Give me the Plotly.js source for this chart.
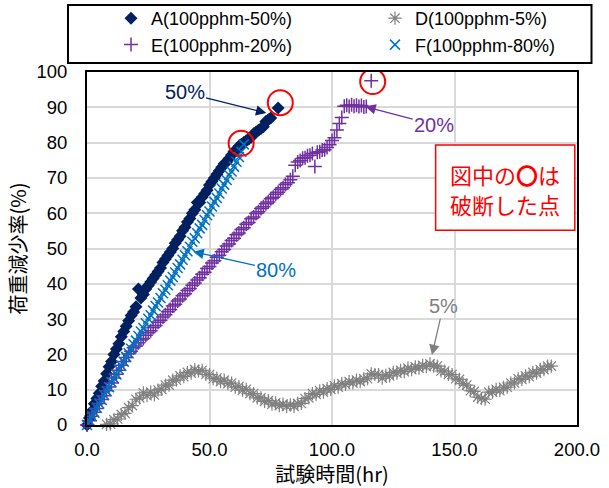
<!DOCTYPE html>
<html>
<head>
<meta charset="utf-8">
<script src="https://cdn.plot.ly/plotly-3.0.1.min.js"></script>
<style>html,body{margin:0;padding:0;background:#fff;}#chart{width:609px;height:488px;}</style>
</head>
<body>
<div id="chart"></div>
<script>
// ---- data (hours from start; loss rate %) ----
const seriesNames = ["A(100pphm-50%)", "D(100pphm-5%)", "E(100pphm-20%)", "F(100pphm-80%)"];
// A: start 0 h, every 1 h
const aStart = 0, aStep = 1;
const aValues = [0,2,4,6,7.5,9,11,12.5,14.5,16.5,
  18,20,21.5,23,25,26.5,28,29.5,31,32,
  33.5,38.5,36,37,38.5,39.5,40.5,41.5,42.5,43.5,
  44.5,46,47,48,49,50,51.5,52.5,53.5,55,
  56,57.5,58.5,60,61,63,63,64.5,65.5,66.5,
  68,69,70,71,72,73,74,74.5,75.5,76.5,
  77.5,78,79,79.5,80,80.5,81,81.5,82.5,83,
  83.5,84,84.5,86,86.5,87,null,null,89.8];
// D: start 8 h, every 1.5 h
const dStart = 8, dStep = 1.5;
const dValues = [0.2,0.3,1.5,1.7,3.0,3.3,4.9,5.5,7.3,7.7,
  9.1,8.3,9.3,8.5,9.9,10.1,11.3,11.3,12.7,12.7,
  13.9,13.7,14.9,14.7,15.7,15.3,15.5,14.3,14.3,13.1,
  13.3,12.3,12.7,11.7,11.9,10.7,10.9,9.9,10.1,8.9,
  8.9,7.7,7.7,6.7,6.9,5.9,6.3,5.5,5.9,5.3,
  5.7,5.3,6.1,6.1,7.5,7.7,8.9,8.7,9.7,9.3,
  10.3,10.1,11.1,10.7,11.7,11.5,12.3,11.9,12.7,12.3,
  13.1,13.1,14.5,14.3,14.3,13.3,14.1,13.9,14.9,14.7,
  15.5,15.1,16.1,15.7,16.5,16.1,16.9,16.5,17.3,16.7,
  16.7,15.3,15.3,14.3,14.3,13.1,12.9,11.7,11.3,9.7,
  9.5,7.9,7.5,7.3,9.3,9.3,10.1,9.7,10.7,10.7,
  11.9,11.9,13.1,12.9,13.9,13.7,14.9,14.7,15.7,15.7,
  16.7,16.7];
// E: start 0 h, every 1 h
const eStart = 0, eStep = 1;
const eValues = [0,1.2,2.5,3.6,4.7,6.1,7.2,8.3,9.7,10.8,
  11.9,13.3,14.4,15.5,16.9,18,19.1,20.2,20.9,21.9,
  22.4,23.3,24.1,24.5,25.4,26.1,26.7,27.6,28.2,29.1,
  29.7,30.6,31.2,32.1,32.7,33.7,34.2,35.1,35.7,36.6,
  37.2,38.1,38.7,39.6,40.2,41.1,41.7,42.7,43.3,44.3,
  44.9,45.9,46.5,47.5,48.1,49.1,49.7,50.7,51.3,52.3,
  52.9,53.9,54.4,55.4,55.9,56.9,57.4,58.4,58.9,59.9,
  60.4,61.3,61.8,62.7,63.2,64.1,64.5,65.4,65.9,66.7,
  67.2,68.1,68.6,69.5,70.5,73.6,74.5,74.9,75.6,75.7,
  76.3,76.4,76.9,73.2,77.3,77.4,77.9,78,78.6,79.4,
  80.6,81.4,83.6,85.4,87.1,90.3,90.6,90.2,90.7,90.3,
  90.6,90.2,90.5,90.1,90.2,null,97.5];
// F: start 0 h, every 1 h
const fStart = 0, fStep = 1;
const fValues = [0,1.3,2.5,3.5,4.9,6.1,7.1,8.5,9.6,10.7,
  12.1,13.2,14.3,15.7,16.8,17.9,19.3,20.3,21.6,22.9,
  23.9,25.2,26.5,27.5,28.8,30.1,31.1,32.4,33.7,34.7,
  36,37.3,38.3,39.6,40.9,41.9,43.2,44.5,45.5,46.8,
  48.1,49.2,50.5,51.9,52.9,54.3,55.7,56.7,58.1,59.4,
  60.5,61.9,63.2,64.3,65.6,67,68.1,69.4,70.8,71.8,
  73.2,74.6,75.9,77.4,79.5];

const xTickVals = [0, 50, 100, 150, 200];
const xTickText = ["0.0", "50.0", "100.0", "150.0", "200.0"];
const yTickVals = [0,10,20,30,40,50,60,70,80,90,100];
const xTitle = "試験時間(hr)";
const yTitle = "荷重減少率(%)";
const noteLines = ["図中の<b>〇</b>は", "破断した点"];
const labels = [
  {text: "50%", color: "#002060", tx: 39.8, ty: 94.2, hx: 73.2, hy: 88.4},
  {text: "20%", color: "#7030A0", tx: 141.7, ty: 85, hx: 113.6, hy: 90.2},
  {text: "80%", color: "#0070C0", tx: 77.3, ty: 43.9, hx: 43.4, hy: 49.1},
  {text: "5%", color: "#808080", tx: 145.4, ty: 33.7, hx: 140.8, hy: 19.8}
];
const breakPoints = [[78.9, 91.3], [62.9, 79.8], [116.6, 97.3]];

const FONT = "Liberation Sans, Arial, Noto Sans CJK JP, sans-serif";

const traces = [
  {name: seriesNames[0], legend: "legend", y: aValues, x0: aStart, dx: aStep, type: "scatter", mode: "markers", cliponaxis: false,
   marker: {symbol: "diamond", size: 10, color: "#002060"}},
  {name: seriesNames[1], legend: "legend2", y: dValues, x0: dStart, dx: dStep, type: "scatter", mode: "markers", cliponaxis: false,
   marker: {symbol: "asterisk-open", size: 11, color: "#808080", line: {color: "#808080", width: 1.2}}},
  {name: seriesNames[2], legend: "legend", y: eValues, x0: eStart, dx: eStep, type: "scatter", mode: "markers", cliponaxis: false,
   marker: {symbol: "cross-thin-open", size: 10, color: "#7030A0", line: {color: "#7030A0", width: 1.5}}},
  {name: seriesNames[3], legend: "legend2", y: fValues, x0: fStart, dx: fStep, type: "scatter", mode: "markers", cliponaxis: false,
   marker: {symbol: "x-thin-open", size: 10, color: "#0070C0", line: {color: "#0070C0", width: 1.5}}}
];

const annotations = labels.map(l => ({
  x: l.hx, y: l.hy, xref: "x", yref: "y", ax: l.tx, ay: l.ty, axref: "x", ayref: "y",
  text: l.text, showarrow: true, arrowhead: 2, arrowsize: 1.6, arrowwidth: 1.3, arrowcolor: l.color,
  font: {family: FONT, size: 20, color: l.color}
}));
annotations.push({x: 170.7, y: 71.2, xref: "x", yref: "y", text: noteLines[0], showarrow: false,
  font: {family: "Noto Sans CJK JP, sans-serif", size: 22, color: "#FF0000"}});
annotations.push({x: 170.7, y: 62.7, xref: "x", yref: "y", text: noteLines[1], showarrow: false,
  font: {family: "Noto Sans CJK JP, sans-serif", size: 22, color: "#FF0000"}});

const shapes = breakPoints.map(p => ({
  type: "circle", xref: "x", yref: "y", xsizemode: "pixel", ysizemode: "pixel",
  xanchor: p[0], yanchor: p[1], x0: -12.5, x1: 12.5, y0: -12.5, y1: 12.5,
  line: {color: "#FF0000", width: 2}, layer: "above"
}));
shapes.push({type: "rect", xref: "x", yref: "y", x0: 142.3, x1: 199.1, y0: 55.2, y1: 79.3,
  fillcolor: "#FFFFFF", line: {color: "#FF0000", width: 1.5}, layer: "above"});
shapes.push({type: "rect", xref: "paper", yref: "paper", x0: -0.0388, x1: 1.0296, y0: 1.0255, y1: 1.1898,
  line: {color: "#000000", width: 2}, layer: "above"});

const legendCommon = {orientation: "v", yref: "container", y: 1.0, yanchor: "top", xanchor: "left",
  bgcolor: "rgba(0,0,0,0)", borderwidth: 0, font: {family: FONT, size: 18}, traceorder: "normal"};

const layout = {
  width: 609, height: 488,
  margin: {l: 87, r: 32, t: 72, b: 63, pad: 0},
  paper_bgcolor: "#FFFFFF", plot_bgcolor: "#FFFFFF",
  font: {family: FONT, size: 18, color: "#000000"},
  showlegend: true,
  legend: Object.assign({x: 0.049}, legendCommon),
  legend2: Object.assign({x: 0.5877}, legendCommon),
  xaxis: {range: [0, 200], tickvals: xTickVals, ticktext: xTickText, showgrid: true,
    gridcolor: "#D9D9D9", gridwidth: 2, zeroline: false, showline: true, linecolor: "#000000",
    linewidth: 2, mirror: true, ticks: "", ticklabelstandoff: 7,
    tickfont: {family: FONT, size: 18.5}, title: {text: xTitle, standoff: 22,
    font: {family: "Noto Sans CJK JP, sans-serif", size: 20}}},
  yaxis: {range: [0, 100], tickvals: yTickVals, showgrid: true, gridcolor: "#D9D9D9", gridwidth: 2,
    zeroline: false, showline: true, linecolor: "#000000", linewidth: 2, mirror: true, ticks: "",
    ticklabelstandoff: 14, tickfont: {family: FONT, size: 18.5},
    title: {text: yTitle, standoff: 4, font: {family: "Noto Sans CJK JP, sans-serif", size: 20}}},
  annotations: annotations,
  shapes: shapes
};

Plotly.newPlot("chart", traces, layout, {displayModeBar: false, staticPlot: true});
</script>
</body>
</html>
